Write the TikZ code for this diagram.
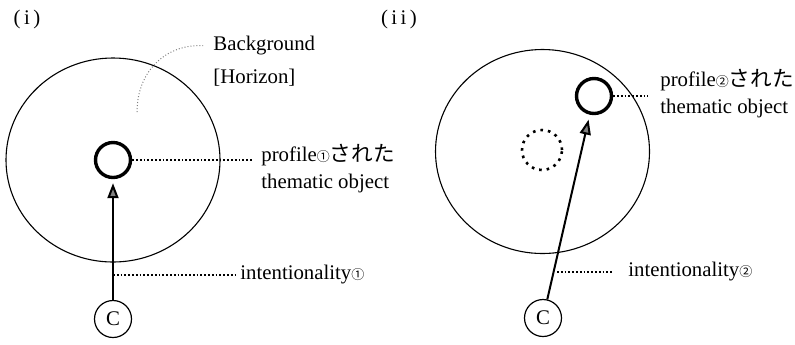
\documentclass[tikz,border=0pt]{standalone}
\usepackage{fontspec}
\setmainfont{Liberation Serif}
\newfontfamily\jpfont{Noto Sans CJK JP}
\usetikzlibrary{arrows.meta,shapes.geometric}

\newcommand{\circnum}[1]{{\jpfont\fontsize{6.5}{6.5}\selectfont #1}}
\newcommand{\sareta}{{\jpfont\fontsize{10.8}{12}\selectfont された}}

\begin{document}
\begin{tikzpicture}[x=0.5pt, y=-0.5pt, font=\fontsize{10.4}{12}\selectfont,
  bgring/.style={draw, ellipse, line width=0.55pt, minimum width=107pt, minimum height=102pt, inner sep=0pt},
  focus/.style={draw, circle, line width=1.7pt, minimum size=17.5pt, inner sep=0pt},
  ghost/.style={draw, circle, line width=1.3pt, dash pattern=on 1.3pt off 2.5pt, minimum size=20pt, inner sep=0pt},
  subj/.style={draw, circle, line width=0.6pt, minimum size=18.5pt, inner sep=0pt},
  tag/.style={anchor=west, inner sep=0pt},
  leader/.style={densely dotted, line width=0.9pt},
  intent/.style={line width=1pt, -{Triangle[length=7.5pt,width=5.5pt,fill=gray,line width=1pt]}}]
  \useasboundingbox (0,0) rectangle (795,344);

  % (i)
  \node (capA) at (27,19) {(\,i\,)};
  \node[bgring] (bgA) at (113,160) {};
  \node[focus] (objA) at (113,160) {};
  \node[subj] (cA) at (113,319) {C};
  \node[tag] (hzA1) at (213,46) {Background};
  \node[tag] (hzA2) at (213,78) {[Horizon]};
  \node[tag] (profA1) at (261,155) {profile\circnum{①}\sareta};
  \node[tag] (profA2) at (261,183) {thematic object};
  \node[tag] (intA) at (240,275) {intentionality\circnum{①}};
  \coordinate (hzA) at (137,112);
  \coordinate (tA) at (113,275);
  \draw[intent, shorten >=2pt] (cA) -- (objA);
  \draw[gray, densely dotted, line width=0.5pt, shorten >=5pt] (hzA) .. controls (137,72) and (165,44) .. (hzA1.west);
  \draw[leader, shorten >=4.5pt] (objA.east) -- (objA.east -| profA1.west);
  \draw[leader, shorten >=1.5pt] (tA) -- (intA.west);

  % (ii)
  \node (capB) at (399,19) {(\,i\,i\,)};
  \node[bgring] (bgB) at (542.5,151.5) {};
  \node[ghost] (oldB) at (542,150) {};
  \node[focus] (objB) at (594,96) {};
  \node[subj] (cB) at (543,318) {C};
  \node[tag] (profB1) at (660,80) {profile\circnum{②}\sareta};
  \node[tag] (profB2) at (660,108) {thematic object};
  \node[tag] (intB) at (628,272) {intentionality\circnum{②}};
  \coordinate (tB) at (557,272);
  \draw[intent, shorten >=2.5pt] (cB) -- (objB);
  \draw[leader, shorten >=6pt] (objB.east) -- (objB.east -| profB1.west);
  \draw[leader, shorten >=8pt] (tB) -- (intB.west);
\end{tikzpicture}
\end{document}
